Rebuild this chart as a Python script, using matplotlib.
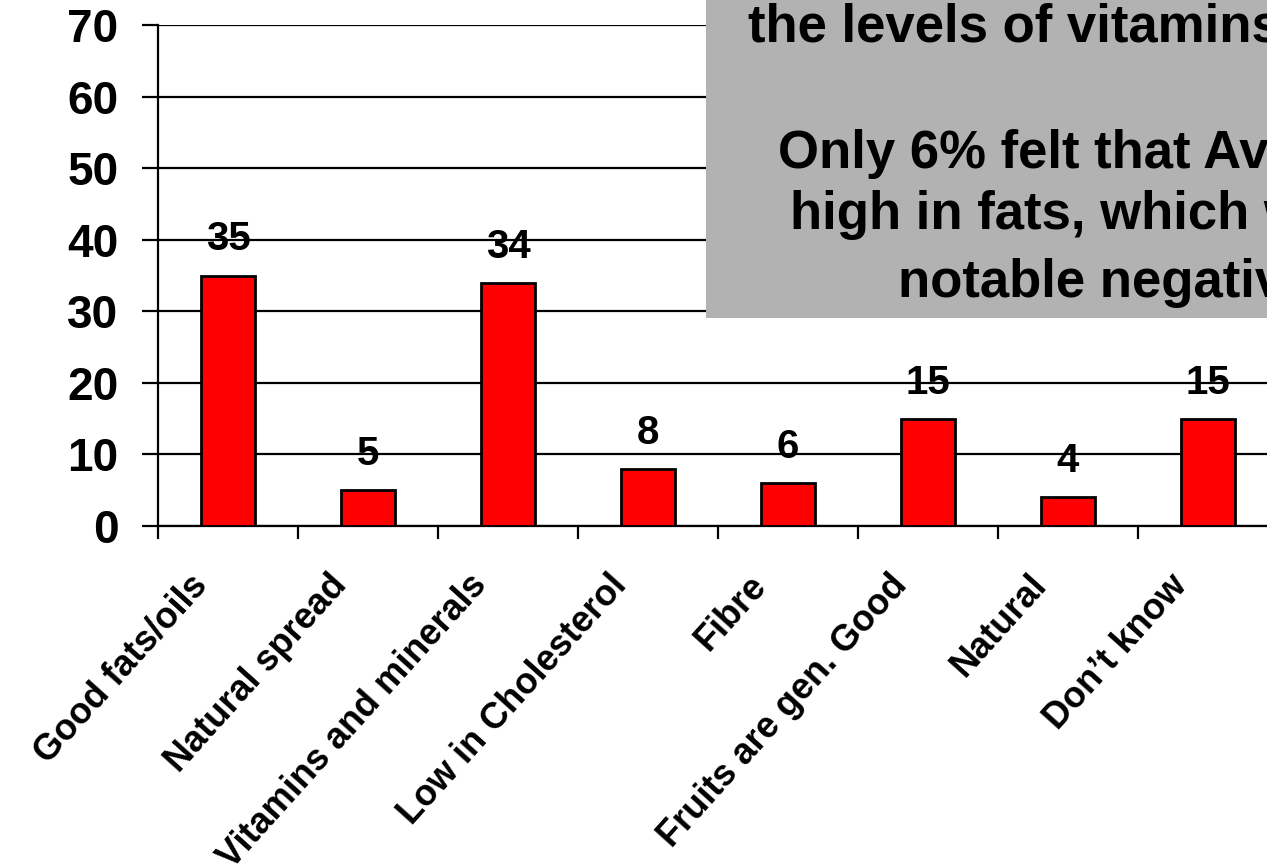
import matplotlib
matplotlib.use("Agg")
import matplotlib.pyplot as plt
from matplotlib.patches import Rectangle
from matplotlib.transforms import ScaledTranslation

categories = ["Good fats/oils", "Natural spread", "Vitamins and minerals",
              "Low in Cholesterol", "Fibre", "Fruits are gen. Good",
              "Natural", "Don\u2019t know"]
values = [35, 5, 34, 8, 6, 15, 4, 15]
yticks = [0, 10, 20, 30, 40, 50, 60, 70]
box_lines = ["the levels of vitamins and minerals",
             "Only 6% felt that Avocados are",
             "high in fats, which was the only",
             "notable negative"]

plt.rcParams['font.family'] = ['Liberation Sans', 'DejaVu Sans']
plt.rcParams['font.weight'] = 'bold'

W, H = 1267, 868
fig = plt.figure(figsize=(W / 100, H / 100), dpi=100)
fig.patch.set_facecolor('white')

n = len(categories)
left_px, right_px, top_px, bottom_px = 158, 158 + 140 * n, 25, 526
ax = fig.add_axes([left_px / W, (H - bottom_px) / H,
                   (right_px - left_px) / W, (bottom_px - top_px) / H])

x = list(range(n))
ax.bar(x, values, width=0.39, color='#ff0000', edgecolor='black',
       linewidth=2.0, zorder=3)
ax.set_xlim(-0.5, n - 0.5)
ax.set_ylim(0, 70)

ax.set_yticks(yticks)
ax.set_yticklabels([str(v) for v in yticks], fontsize=33, fontweight='bold')
ax.yaxis.grid(True, color='black', linewidth=1.6, zorder=1)
ax.set_axisbelow(True)
ax.tick_params(axis='y', length=11.5, width=1.6, pad=17, color='black')

ax.set_xticks([i - 0.5 for i in range(n + 1)])
ax.set_xticklabels([])
ax.tick_params(axis='x', length=9, width=1.6, color='black')

for s in ['top', 'right']:
    ax.spines[s].set_visible(False)
for s in ['left', 'bottom']:
    ax.spines[s].set_linewidth(1.6)

# rotated category labels
off = ScaledTranslation(-40 / 100, -42 / 100, fig.dpi_scale_trans)
for i, lab in enumerate(categories):
    ax.text(i, 0, lab, transform=ax.get_xaxis_transform() + off,
            rotation=48, rotation_mode='anchor', ha='right', va='top',
            fontsize=26, fontweight='bold')

# value labels
for i, v in enumerate(values):
    ax.annotate(str(v), (i, v), xytext=(0, 26), textcoords='offset points',
                ha='center', va='center', fontsize=29, fontweight='bold',
                zorder=4)

# gray text box (clipped at the canvas edge)
fig.add_artist(Rectangle((706 / W, (H - 318) / H), 1.0, 1.0,
                         transform=fig.transFigure, facecolor='#b2b2b2',
                         edgecolor='none', zorder=5))
box_pos = [(748, 42), (778, 168), (790, 229), (898, 297)]
for (px, py), line in zip(box_pos, box_lines):
    fig.text(px / W, (H - py) / H, line, ha='left', va='baseline',
             fontsize=38, fontweight='bold', zorder=6)

fig.savefig('out.png', dpi=100)
